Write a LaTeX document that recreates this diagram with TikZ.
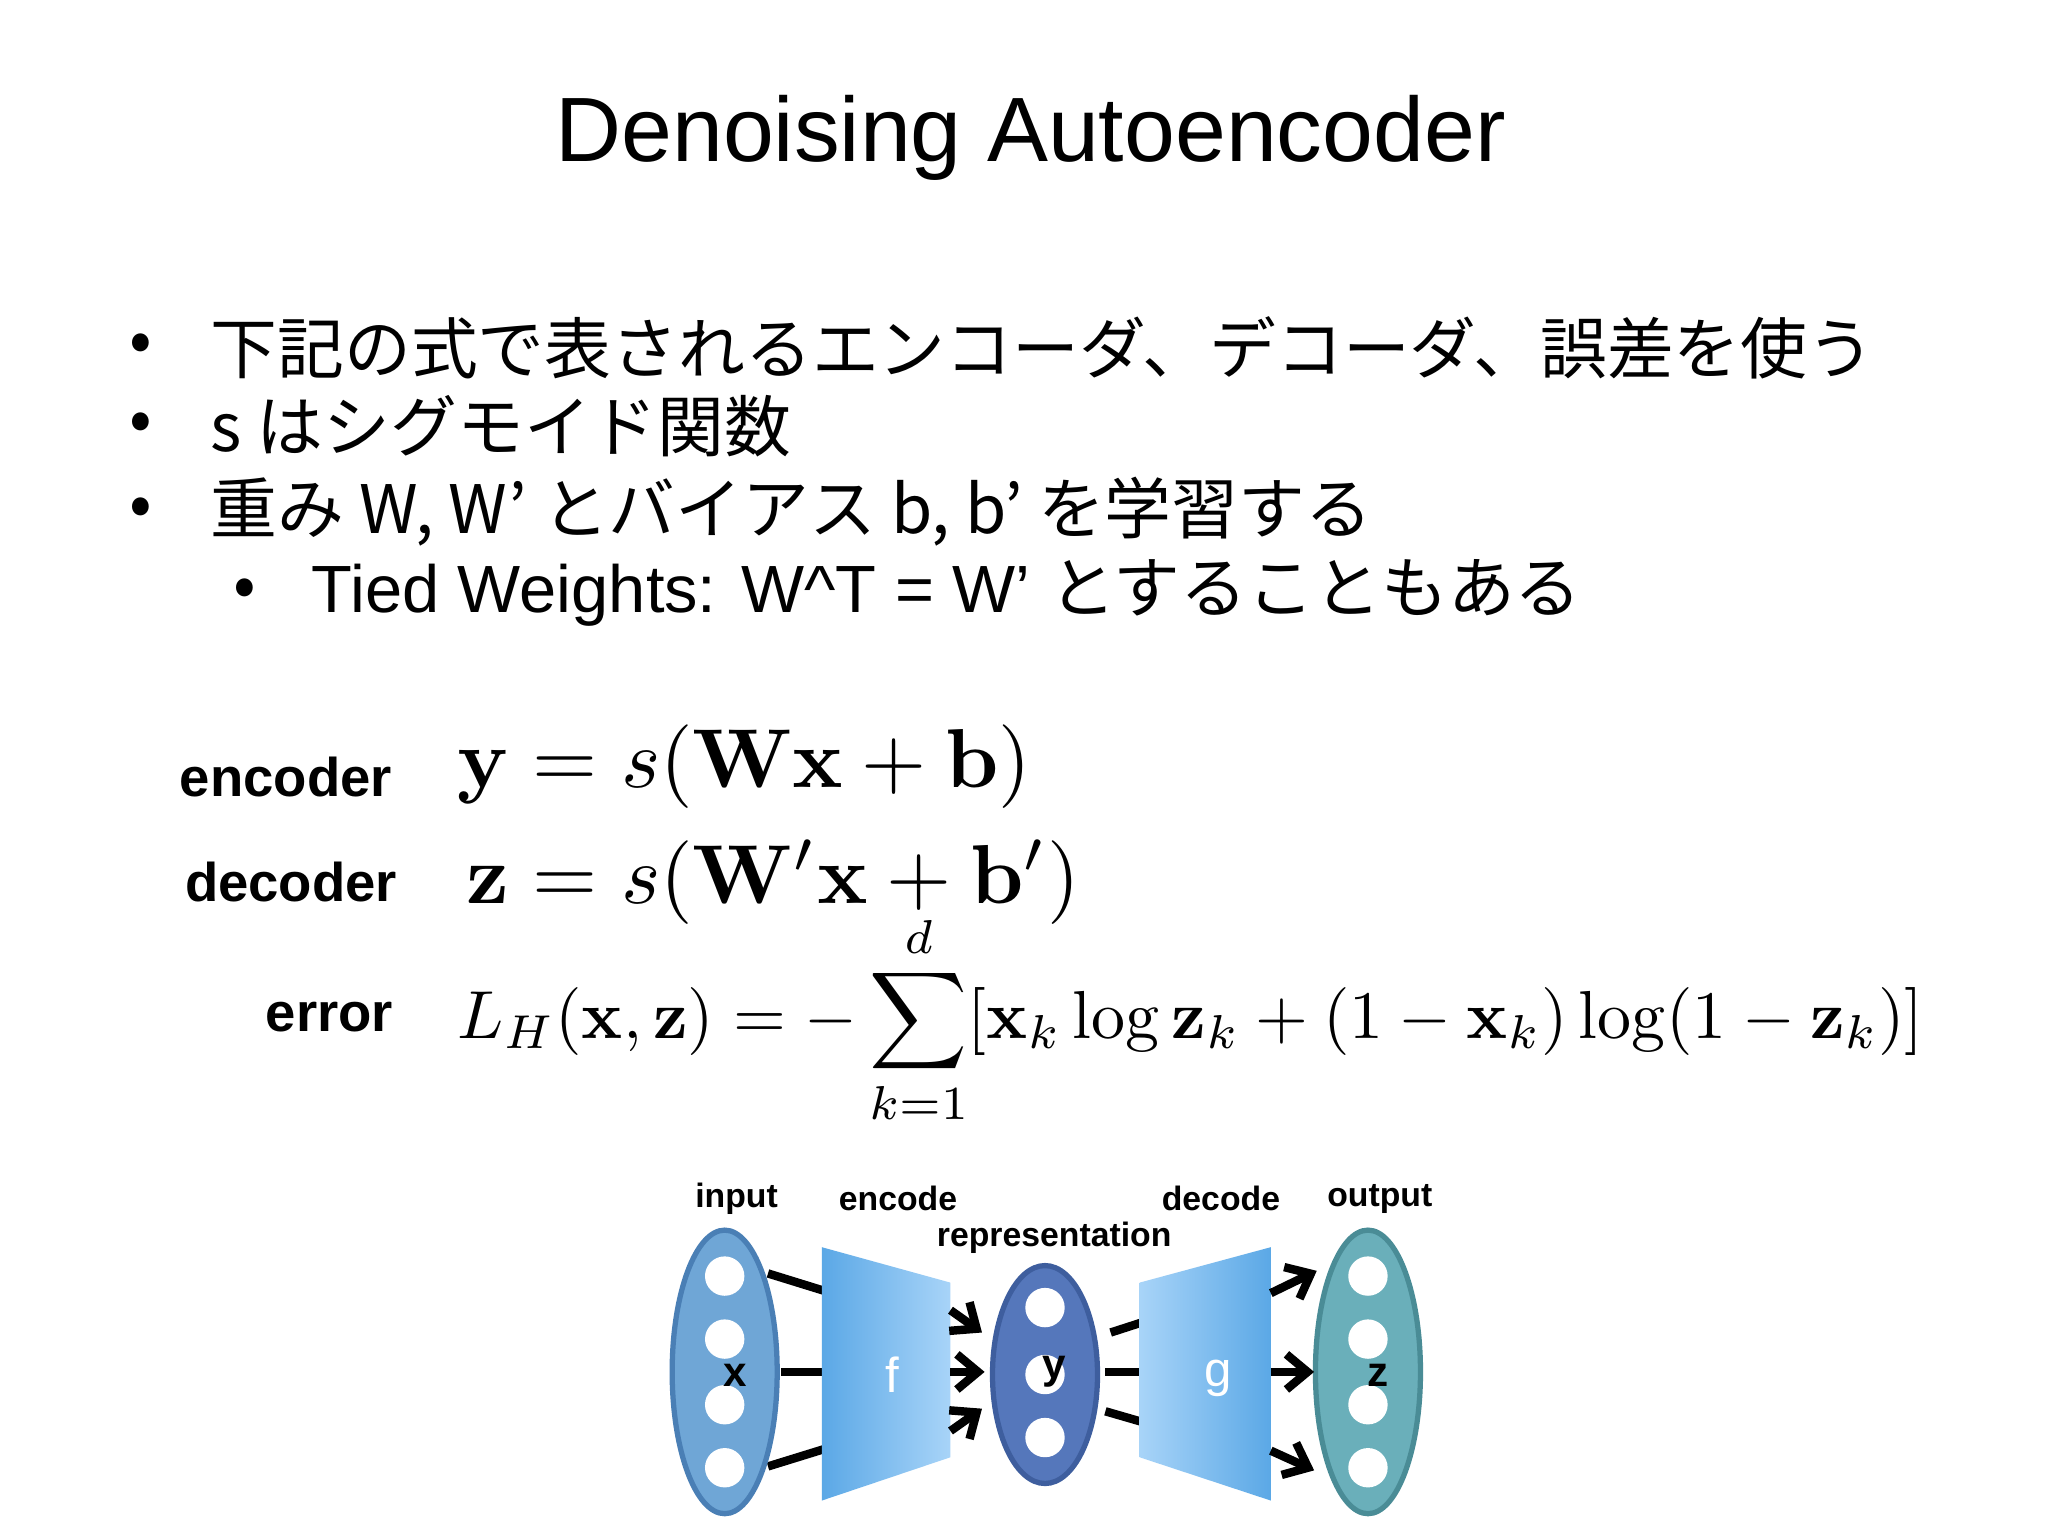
\documentclass[tikz,border=0pt]{standalone}
\usepackage{amsmath,graphicx}
\usepackage[no-math]{fontspec}
\usetikzlibrary{arrows.meta}
\setmainfont{Liberation Sans}
\newfontfamily\jp{Noto Sans CJK JP}
\newcommand{\U}[1]{\dimexpr #1\dimexpr 0.37325pt\relax\relax}
\definecolor{inblue}{HTML}{6FA6D6}
\definecolor{inbord}{HTML}{4A7FB5}
\definecolor{rep}{HTML}{5577BB}
\definecolor{repbord}{HTML}{3E5E9E}
\definecolor{outc}{HTML}{6AAFBA}
\definecolor{outbord}{HTML}{4A8C96}
\definecolor{trapd}{HTML}{5BA8E6}
\definecolor{trapl}{HTML}{A8D4F8}
\begin{document}
\begin{tikzpicture}[x=0.013128cm,y=-0.013128cm,
  bul/.style={anchor=west,inner sep=0pt,font=\jp\fontsize{19}{22}\selectfont},
  lab/.style={anchor=east,inner sep=0pt,font=\bfseries\fontsize{15.5}{18}\selectfont},
  eq/.style={anchor=base west,inner sep=0pt},
  dlab/.style={inner sep=0pt,font=\bfseries\fontsize{9.6}{11}\selectfont},
  conn/.style={line width=2.4pt,black},
  arr/.style={conn,-{Straight Barb[length=6pt,width=10pt,line width=2.4pt]}}]
\useasboundingbox (0,0) rectangle (1560,1170);
\fill[white] (0,0) rectangle (1560,1170);
\node[inner sep=0pt,font=\fontsize{26}{30}\selectfont] (title) at (785,105) {Denoising Autoencoder};
% bullets
\node[bul] (b1) at (98,265) {•};
\node[bul] (t1) at (160,265) {下記の式で表されるエンコーダ、デコーダ、誤差を使う};
\node[bul] (b2) at (98,325) {•};
\node[bul] (t2) at (160,325) {s はシグモイド関数};
\node[bul] (b3) at (98,390) {•};
\node[bul] (t3) at (160,390) {重み W, W’ とバイアス b, b’ を学習する};
\node[bul] (b4) at (177,452) {•};
\node[bul] (t4) at (237,452) {{\rmfamily\fontsize{19}{22}\selectfont Tied Weights: W\^{}T = W’ }とすることもある};
% equations
\node[lab] (l1) at (299,592) {encoder};
\node[lab] (l2) at (303,672) {decoder};
\node[lab] (l3) at (300,775) {error};
\node[eq] (e1) at (348,600) {\resizebox{\U{437}}{!}{$\mathbf{y}=s(\mathbf{W}\mathbf{x}+\mathbf{b})$}};
\node[eq] (e2) at (355,688) {\resizebox{\U{467}}{!}{$\mathbf{z}=s(\mathbf{W}'\mathbf{x}+\mathbf{b}')$}};
\node[anchor=west,inner sep=0pt] (e3) at (348,777) {\resizebox{\U{1117}}{!}{$\displaystyle L_H(\mathbf{x},\mathbf{z})=-\sum_{k=1}^{d}[\mathbf{x}_k\log\mathbf{z}_k+(1-\mathbf{x}_k)\log(1-\mathbf{z}_k)]$}};
% diagram
\node[dlab] (ilab) at (561,913) {input};
\node[dlab] (elab) at (684,913) {encode};
\node[dlab] (dlab) at (930,913) {decode};
\node[dlab] (olab) at (1051,913) {output};
\node[dlab] (rlab) at (803,943) {representation};
% connectors behind
\coordinate (i1) at (585,970); \coordinate (i2) at (595,1045); \coordinate (i3) at (585,1117);
\coordinate (f1) at (640,987); \coordinate (f2) at (640,1045); \coordinate (f3) at (640,1100);
\draw[conn] (i1) -- (f1); \draw[conn] (i2) -- (f2); \draw[conn] (i3) -- (f3);
\coordinate (r1) at (846,1015); \coordinate (r2) at (842,1045); \coordinate (r3) at (842,1075);
\coordinate (g1) at (880,1004); \coordinate (g2) at (880,1045); \coordinate (g3) at (880,1086);
\draw[conn] (r1) -- (g1); \draw[conn] (r2) -- (g2); \draw[conn] (r3) -- (g3);
% input ellipse
\draw[draw=inbord,fill=inblue,line width=1.5pt] (552,1045) ellipse [x radius=40,y radius=108];
\foreach \yy in {972,1020,1070,1118} \fill[white] (552,\yy) circle[radius=15];
\node[font=\fontsize{12}{13}\selectfont\bfseries,inner sep=0pt] (xl) at (560,1048) {x};
% encoder trapezoid
\path[left color=trapd,right color=trapl] (626,950) -- (724,977) -- (724,1110) -- (626,1143) -- cycle;
\node[text=white,font=\fontsize{14}{15}\selectfont,inner sep=0pt] (fl) at (680,1047) {f};
% representation
\draw[draw=repbord,fill=rep,line width=1.5pt] (796,1047) ellipse [x radius=40,y radius=83];
\foreach \yy in {996,1047,1095} \fill[white] (796,\yy) circle[radius=15];
\node[font=\fontsize{12}{13}\selectfont\bfseries,inner sep=0pt] (yl) at (803,1045) {y};
% decoder trapezoid
\path[left color=trapl,right color=trapd] (868,977) -- (968,950) -- (968,1143) -- (868,1110) -- cycle;
\node[text=white,font=\fontsize{14}{15}\selectfont,inner sep=0pt] (gl) at (928,1050) {g};
% output ellipse
\draw[draw=outbord,fill=outc,line width=1.5pt] (1042,1045) ellipse [x radius=40,y radius=108];
\foreach \yy in {972,1020,1070,1118} \fill[white] (1042,\yy) circle[radius=15];
\node[font=\fontsize{12}{13}\selectfont\bfseries,inner sep=0pt] (zl) at (1050,1048) {z};
% arrows
\coordinate (a1) at (724,998); \coordinate (a2) at (724,1045); \coordinate (a3) at (724,1090);
\coordinate (y1) at (748,1015); \coordinate (y2) at (750,1045); \coordinate (y3) at (748,1073);
\draw[arr] (a1) -- (y1); \draw[arr] (a2) -- (y2); \draw[arr] (a3) -- (y3);
\coordinate (d1) at (968,985); \coordinate (d2) at (968,1045); \coordinate (d3) at (968,1105);
\coordinate (z1) at (1003,968); \coordinate (z2) at (1001,1045); \coordinate (z3) at (1001,1120);
\draw[arr] (d1) -- (z1); \draw[arr] (d2) -- (z2); \draw[arr] (d3) -- (z3);
\end{tikzpicture}
\end{document}
